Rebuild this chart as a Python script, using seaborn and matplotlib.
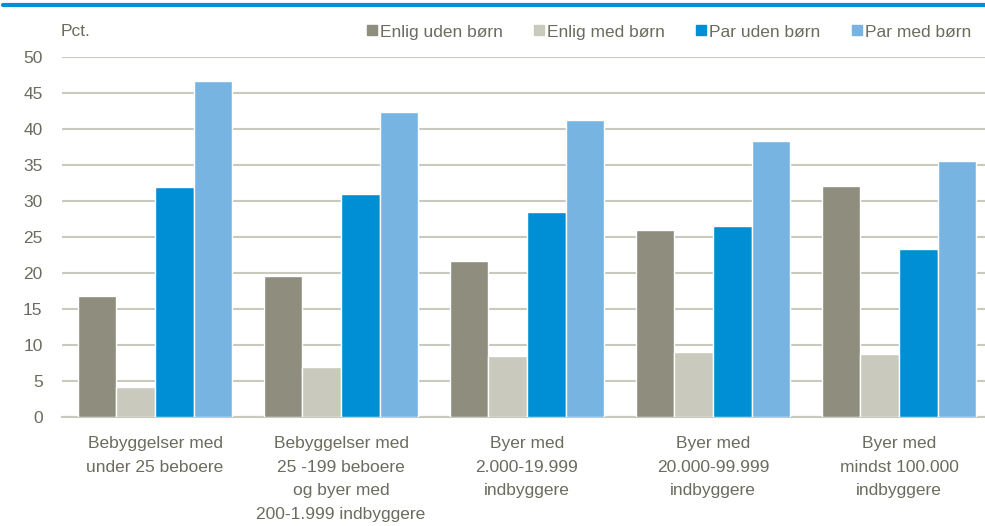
import pandas as pd
import numpy as np
import seaborn as sns
import matplotlib.pyplot as plt
from matplotlib.lines import Line2D

# Data (pct.)
categories = [
    'Bebyggelser med\nunder 25 beboere',
    'Bebyggelser med\n25 -199 beboere\nog byer med\n200-1.999 indbyggere',
    'Byer med\n2.000-19.999\nindbyggere',
    'Byer med\n20.000-99.999\nindbyggere',
    'Byer med\nmindst 100.000\nindbyggere',
]
series = ['Enlig uden børn', 'Enlig med børn', 'Par uden børn', 'Par med børn']
enlig_uden = [16.8, 19.6, 21.6, 26.0, 32.1]
enlig_med = [4.2, 6.9, 8.5, 9.0, 8.8]
par_uden = [32.0, 31.0, 28.5, 26.5, 23.4]
par_med = [46.7, 42.3, 41.2, 38.4, 35.5]
colors = ['#8F8D7E', '#C9C9BE', '#008FD5', '#77B4E2']

df = pd.DataFrame({
    'Område': categories * 4,
    'Type': np.repeat(series, len(categories)),
    'Pct': enlig_uden + enlig_med + par_uden + par_med,
})

sns.set_theme(style='white')
plt.rcParams['font.family'] = ['Liberation Sans', 'DejaVu Sans']
text_col = '#6B6B5E'
grid_col = '#C9C9BE'
fs = 12.5

fig = plt.figure(figsize=(9.85, 5.26), dpi=100)
ax = fig.add_axes([62 / 985, 1 - 417 / 526, 930 / 985, 360 / 526])

sns.barplot(data=df, x='Område', y='Pct', hue='Type', palette=colors,
            width=0.83, edgecolor='white', linewidth=1, saturation=1,
            legend=False, ax=ax, zorder=3)

ax.set_ylim(0, 50)
ax.set_yticks(range(0, 51, 5))
ax.set_xlim(-0.5, len(categories) - 0.5)
ax.yaxis.grid(True, color=grid_col, linewidth=1.5, zorder=0)
ax.set_axisbelow(True)
for s in ['top', 'right', 'left']:
    ax.spines[s].set_visible(False)
ax.spines['bottom'].set_color(grid_col)
ax.spines['bottom'].set_linewidth(1.5)
ax.tick_params(axis='both', length=0, labelsize=fs, colors=text_col)
ax.tick_params(axis='y', pad=14)
ax.tick_params(axis='x', pad=14)
ax.set_xlabel('')
ax.set_ylabel('')
for lab in ax.get_xticklabels():
    lab.set_linespacing(1.71)

fig.text(61 / 985, 1 - 32 / 526, 'Pct.', fontsize=fs, color=text_col,
         ha='left', va='center')

# blue rule at the top of the figure
fig.add_artist(Line2D([3 / 985, 1], [1 - 5 / 526, 1 - 5 / 526],
                      color='#008FD5', linewidth=3, transform=fig.transFigure))

handles = [Line2D([], [], marker='s', linestyle='none', markersize=7,
                  markerfacecolor=c, markeredgecolor=c) for c in colors]
fig.legend(handles, series, loc='center right', ncol=4,
           bbox_to_anchor=(978 / 985, 1 - 32 / 526), frameon=False,
           fontsize=fs, labelcolor=text_col, handletextpad=0.1,
           columnspacing=1.75, handlelength=0.7, borderaxespad=0)

fig.savefig('out.png', dpi=100)
